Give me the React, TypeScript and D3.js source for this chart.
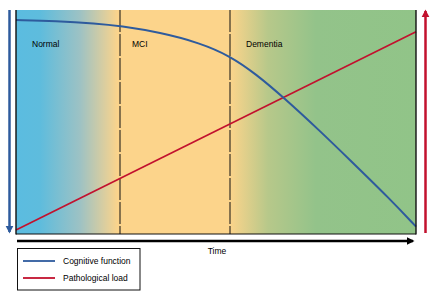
import React from "react";
import * as d3 from "d3";

const timePoints = [0, 10, 20, 26, 36, 46, 53.5, 60, 66.75, 76, 83.5, 93.5, 100];
const cognitiveValues = [95.5, 95.1, 94.0, 92.9, 90.0, 85.3, 79.5, 71.4, 61.2, 46.0, 33.0, 15.6, 3.3];
const pathTime = [0, 100];
const pathValues = [1.8, 90.3];
const phaseBoundaries = [26, 53.5];
const phaseLabels = ["Normal", "MCI", "Dementia"];
const phaseLabelStarts = [4, 29, 57.5];
const seriesNames = ["Cognitive function", "Pathological load"];
const axisLabel = "Time";

const W = 435;
const H = 302;
const BLUE = "#2E5B9D";
const RED = "#C2112E";
const FONT = "'Liberation Sans', Arial, Helvetica, sans-serif";

export default function App() {
  const x = d3.scaleLinear().domain([0, 100]).range([16, 416]);
  const y = d3.scaleLinear().domain([0, 100]).range([234, 10]);

  const cogData = timePoints.map((t, i) => [t, cognitiveValues[i]] as [number, number]);
  const pathData = pathTime.map((t, i) => [t, pathValues[i]] as [number, number]);

  const line = d3
    .line<[number, number]>()
    .x((d) => x(d[0]))
    .y((d) => y(d[1]))
    .curve(d3.curveBasis);

  const x0 = x(0);
  const x1 = x(100);
  const yTop = y(100);
  const yBot = y(0);
  const frac = (t: number) => t / 100;

  return (
    <svg
      width={W}
      height={H}
      style={{ position: "absolute", left: 0, top: 0, background: "#fff" }}
      fontFamily={FONT}
    >
      <defs>
        <linearGradient id="bg" x1="0" x2="1" y1="0" y2="0">
          <stop offset={0} stopColor="#5BBCE0" />
          <stop offset={0.06} stopColor="#5EBCDD" />
          <stop offset={0.16} stopColor="#9DC2C4" />
          <stop offset={0.255} stopColor="#FCD48B" />
          <stop offset={frac(phaseBoundaries[1])} stopColor="#FCD48B" />
          <stop offset={0.63} stopColor="#B7C88A" />
          <stop offset={0.75} stopColor="#93C38A" />
          <stop offset={1} stopColor="#91C488" />
        </linearGradient>
        <marker id="ahBlue" viewBox="0 0 10 10" refX="8" refY="5" markerWidth="3.2" markerHeight="4" orient="auto" markerUnits="strokeWidth">
          <path d="M0,0 L10,5 L0,10 z" fill={BLUE} />
        </marker>
        <marker id="ahRed" viewBox="0 0 10 10" refX="8" refY="5" markerWidth="3.2" markerHeight="4" orient="auto" markerUnits="strokeWidth">
          <path d="M0,0 L10,5 L0,10 z" fill={RED} />
        </marker>
        <marker id="ahBlack" viewBox="0 0 10 10" refX="8" refY="5" markerWidth="3.6" markerHeight="3" orient="auto" markerUnits="strokeWidth">
          <path d="M0,0 L10,5 L0,10 z" fill="#000" />
        </marker>
      </defs>

      <rect x={x0} y={yTop} width={x1 - x0} height={yBot - yTop} fill="url(#bg)" />

      {phaseBoundaries.map((t, i) => (
        <line key={i} x1={x(t)} x2={x(t)} y1={yTop} y2={yBot} stroke="#111" strokeWidth={1} strokeDasharray="22 2" />
      ))}

      {phaseLabels.map((lab, i) => (
        <text key={lab} x={x(phaseLabelStarts[i])} y={47} fontSize={8.5} fill="#000">
          {lab}
        </text>
      ))}

      <path d={line(pathData) || ""} fill="none" stroke={RED} strokeWidth={1.7} />
      <path d={line(cogData) || ""} fill="none" stroke={BLUE} strokeWidth={2} />

      <line x1={x0} x2={x0} y1={yTop} y2={yBot + 0.5} stroke="#111" strokeWidth={1.4} />
      <line x1={x1} x2={x1} y1={yTop} y2={yBot + 0.5} stroke="#111" strokeWidth={1.4} />
      <line x1={x0} x2={x1} y1={yBot} y2={yBot} stroke="#111" strokeWidth={1.2} />

      <line x1={9.5} x2={9.5} y1={yTop} y2={yBot - 2} stroke={BLUE} strokeWidth={2.5} markerEnd="url(#ahBlue)" />
      <line x1={425.5} x2={425.5} y1={yBot - 1} y2={yTop + 1} stroke={RED} strokeWidth={2.5} markerEnd="url(#ahRed)" />

      <line x1={x0 + 1} x2={x1 - 3} y1={241} y2={241} stroke="#000" strokeWidth={2.5} markerEnd="url(#ahBlack)" />
      <text x={(x0 + x1) / 2 + 1} y={254} fontSize={8.5} textAnchor="middle" fill="#000">
        {axisLabel}
      </text>

      <rect x={17.5} y={248.5} width={122.5} height={41.5} fill="#fff" stroke="#111" strokeWidth={1} />
      {seriesNames.map((name, i) => (
        <g key={name} transform={`translate(0, ${261 + i * 17})`}>
          <line x1={23} x2={55} y1={0} y2={0} stroke={i === 0 ? BLUE : RED} strokeWidth={1.8} />
          <text x={63} y={3} fontSize={8.5} fill="#000">
            {name}
          </text>
        </g>
      ))}
    </svg>
  );
}
